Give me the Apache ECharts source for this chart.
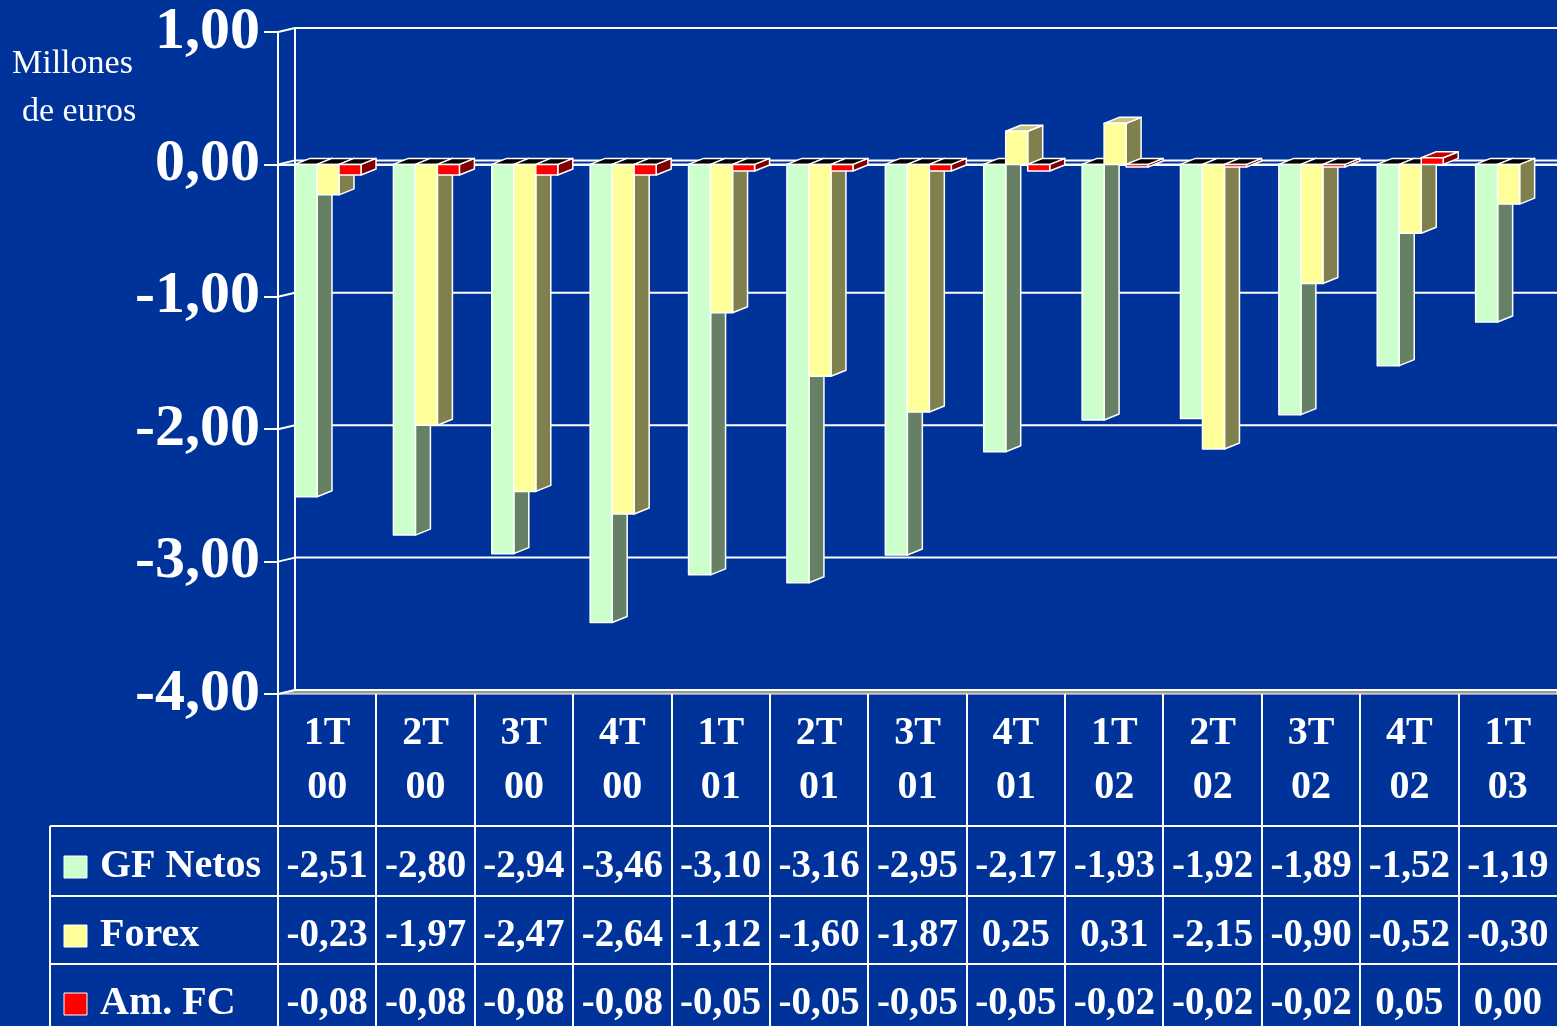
<!DOCTYPE html>
<html>
<head>
<meta charset="utf-8">
<script src="https://cdn.jsdelivr.net/npm/echarts@6/dist/echarts.min.js"></script>
<style>
  html, body { margin: 0; padding: 0; background: #003399; }
  #chart { width: 1557px; height: 1026px; }
</style>
</head>
<body>
<div id="chart"></div>
<script>
const categories = ["1T 00", "2T 00", "3T 00", "4T 00", "1T 01", "2T 01", "3T 01", "4T 01", "1T 02", "2T 02", "3T 02", "4T 02", "1T 03"];
const gfNetos = [-2.51, -2.80, -2.94, -3.46, -3.10, -3.16, -2.95, -2.17, -1.93, -1.92, -1.89, -1.52, -1.19];
const forex = [-0.23, -1.97, -2.47, -2.64, -1.12, -1.60, -1.87, 0.25, 0.31, -2.15, -0.90, -0.52, -0.30];
const amFC = [-0.08, -0.08, -0.08, -0.08, -0.05, -0.05, -0.05, -0.05, -0.02, -0.02, -0.02, 0.05, 0.00];
const yTicks = [1, 0, -1, -2, -3, -4];

const seriesDefs = [
  { name: "GF Netos", data: gfNetos, front: "#CCFFCC", side: "#668066", top: "#99BB99" },
  { name: "Forex", data: forex, front: "#FFFF99", side: "#80804F", top: "#C4C47A" },
  { name: "Am. FC", data: amFC, front: "#FF0000", side: "#800000", top: "#C00000" },
];

const FONT = '"Liberation Serif", "Times New Roman", serif';
const BG = "#003399";
const WALL_DX = 17, WALL_DY = -4;
const BAR_DX = 15, BAR_DY = -6;
const BAR_FRAC = 0.2236, BAR_START = 0.173;

const chart = echarts.init(document.getElementById("chart"));

function fmt(v) {
  return v.toFixed(2).replace(".", ",");
}

function wallRender(params, api) {
  const cs = params.coordSys;
  const v = api.value(0);
  const y = api.coord([0, v])[1];
  const x0 = cs.x, x1 = cs.x + cs.width;
  const line = { stroke: "#fff", lineWidth: 2 };
  const children = [
    { type: "line", shape: { x1: x0 + WALL_DX, y1: y + WALL_DY, x2: x1, y2: y + WALL_DY }, style: line },
    { type: "line", shape: { x1: x0, y1: y, x2: x0 + WALL_DX, y2: y + WALL_DY }, style: line },
  ];
  if (v === 0) {
    children.push({ type: "line", shape: { x1: x0, y1: y, x2: x1, y2: y }, style: line });
  }
  if (params.dataIndex === 0) {
    const yb = api.coord([0, yTicks[yTicks.length - 1]])[1];
    children.push({ type: "line", shape: { x1: x0 + WALL_DX, y1: y + WALL_DY, x2: x0 + WALL_DX, y2: yb + WALL_DY }, style: line });
    children.unshift({
      type: "polygon",
      shape: { points: [[x0, yb], [x0 + WALL_DX, yb + WALL_DY], [x1, yb + WALL_DY], [x1, yb]] },
      style: { fill: "#9a9a9a", stroke: "#fff", lineWidth: 1 },
    });
  }
  return { type: "group", children };
}

function barRender(sIdx) {
  const def = seriesDefs[sIdx];
  return function (params, api) {
    const i = api.value(0), v = api.value(1);
    if (v === 0) return null;
    const band = api.size([1, 0])[0];
    const base = api.coord([i, 0]);
    const yv = api.coord([i, v])[1];
    const x0 = base[0] - band / 2 + band * (BAR_START + sIdx * BAR_FRAC);
    const x1 = x0 + band * BAR_FRAC;
    const top = Math.min(base[1], yv), bot = Math.max(base[1], yv);
    const border = { stroke: "#fff", lineWidth: 1.5, lineJoin: "round" };
    return {
      type: "group",
      children: [
        {
          type: "polygon",
          shape: { points: [[x1, top], [x1 + BAR_DX, top + BAR_DY], [x1 + BAR_DX, bot + BAR_DY], [x1, bot]] },
          style: Object.assign({ fill: def.side }, border),
        },
        {
          type: "polygon",
          shape: { points: [[x0, top], [x0 + BAR_DX, top + BAR_DY], [x1 + BAR_DX, top + BAR_DY], [x1, top]] },
          style: Object.assign({ fill: v > 0 ? def.top : "#000" }, border),
        },
        {
          type: "rect",
          shape: { x: x0, y: top, width: x1 - x0, height: bot - top },
          style: Object.assign({ fill: def.front }, border),
        },
      ],
    };
  };
}

const series = [{
  name: "wall",
  type: "custom",
  renderItem: wallRender,
  data: yTicks.map(v => [v]),
  encode: { y: 0 },
  silent: true,
  z: 1,
}].concat(seriesDefs.map((def, sIdx) => ({
  name: def.name,
  type: "custom",
  renderItem: barRender(sIdx),
  data: def.data.map((v, i) => [i, v]),
  encode: { x: 0, y: 1 },
  z: 2 + sIdx,
})));

chart.setOption({
  backgroundColor: BG,
  animation: false,
  grid: { left: 278, right: 0, top: 32, bottom: 332 },
  xAxis: {
    type: "category",
    data: categories,
    boundaryGap: true,
    axisLine: { lineStyle: { color: "#fff", width: 2 } },
    axisTick: { show: false },
    axisLabel: {
      interval: 0,
      margin: 13,
      color: "#fff",
      fontFamily: FONT,
      fontWeight: "bold",
      fontSize: 40,
      lineHeight: 54,
      formatter: s => s.replace(" ", "\n"),
    },
    splitLine: { show: false },
  },
  yAxis: {
    type: "value",
    min: -4,
    max: 1,
    interval: 1,
    axisLine: { show: true, lineStyle: { color: "#fff", width: 2 } },
    axisTick: { show: true, length: 14, lineStyle: { color: "#fff", width: 2 } },
    axisLabel: {
      margin: 18,
      color: "#fff",
      fontFamily: FONT,
      fontWeight: "bold",
      fontSize: 60,
      formatter: v => fmt(v),
    },
    splitLine: { show: false },
  },
  series,
});

// data table below the axis
const colX = categories.map((_c, i) => chart.convertToPixel({ xAxisIndex: 0 }, i));
const band = colX[1] - colX[0];
const axisY = chart.convertToPixel({ yAxisIndex: 0 }, -4);
const rowTops = [826, 896, 964];
const rowH = [70, 68, 68];
const tableLeft = 50, tableRight = 1557, tableBottom = 1026;
const white = { stroke: "#fff", lineWidth: 2 };
const graphic = [];

rowTops.forEach(y => {
  graphic.push({ type: "line", shape: { x1: tableLeft, y1: y, x2: tableRight, y2: y }, style: white });
});
graphic.push({ type: "line", shape: { x1: tableLeft, y1: rowTops[0], x2: tableLeft, y2: tableBottom }, style: white });
colX.forEach(x => {
  const bx = Math.round(x - band / 2);
  graphic.push({ type: "line", shape: { x1: bx, y1: axisY, x2: bx, y2: tableBottom }, style: white });
});

seriesDefs.forEach((def, r) => {
  const cy = rowTops[r] + rowH[r] / 2 + 6;
  graphic.push({
    type: "rect",
    shape: { x: 64, y: cy - 11, width: 23, height: 22 },
    style: { fill: def.front, stroke: "#fff", lineWidth: 1 },
  });
  graphic.push({
    type: "text",
    x: 100,
    y: cy,
    style: { text: def.name, fill: "#fff", font: `bold 40px ${FONT}`, verticalAlign: "middle", align: "left" },
  });
  def.data.forEach((v, i) => {
    graphic.push({
      type: "text",
      x: colX[i],
      y: cy,
      style: { text: fmt(v), fill: "#fff", font: `bold 39px ${FONT}`, verticalAlign: "middle", align: "center" },
    });
  });
});

graphic.push({
  type: "text",
  left: 12,
  top: 47,
  style: { text: "Millones", fill: "#fff", font: `34px ${FONT}` },
});
graphic.push({
  type: "text",
  left: 22,
  top: 95,
  style: { text: "de euros", fill: "#fff", font: `34px ${FONT}` },
});

chart.setOption({ graphic });
</script>
</body>
</html>
